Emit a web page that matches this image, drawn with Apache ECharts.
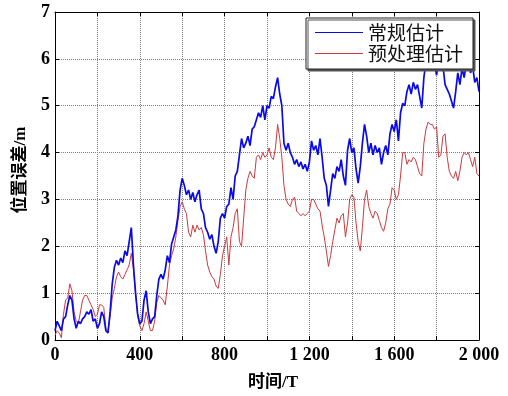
<!DOCTYPE html>
<html>
<head>
<meta charset="utf-8">
<script src="https://cdn.jsdelivr.net/npm/echarts@6/dist/echarts.min.js"></script>
<style>
  html, body { margin: 0; padding: 0; background: #fff; }
  #chart { width: 508px; height: 396px; }
</style>
</head>
<body>
<div id="chart"></div>
<script>
// sample spacing along the time axis
const timeStep = 10;

// 常规估计 (conventional estimate), one value every 10 T from 0 to 2000
const conventional = [
  0.2, 0.4, 0.3, 0.2, 0.45, 0.5, 0.75, 0.95, 0.85, 0.45,
  0.25, 0.4, 0.35, 0.45, 0.5, 0.6, 0.55, 0.65, 0.4, 0.45,
  0.25, 0.35, 0.6, 0.5, 0.2, 0.15, 0.6, 1.2, 1.55, 1.7,
  1.6, 1.75, 1.65, 1.9, 1.8, 2.1, 2.4, 1.6, 1.0, 0.55,
  0.35, 0.4, 0.85, 1.05, 0.6, 0.35, 0.45, 0.5, 0.95, 1.3,
  1.4, 1.3, 1.5, 1.8, 1.65, 2.05, 2.2, 2.35, 2.65, 3.2,
  3.45, 3.3, 3.1, 3.2, 3.0, 3.15, 2.95, 3.1, 3.2, 2.8,
  2.7, 2.4, 2.3, 2.15, 2.25, 2.0, 1.85, 2.1, 2.6, 2.7,
  2.6, 2.85, 2.9, 3.25, 3.0, 3.5, 3.6, 3.95, 4.3, 4.1,
  4.2, 4.35, 4.15, 4.5, 4.55, 4.7, 4.85, 4.75, 5.0, 4.7,
  5.0, 4.95, 5.2, 5.15, 5.4, 5.6, 5.25, 5.0, 4.2, 4.05,
  4.2, 4.0, 3.9, 3.75, 3.85, 3.7, 3.8, 3.65, 3.75, 3.6,
  3.8, 4.25, 4.05, 4.15, 3.95, 4.3, 3.9, 3.45, 3.3, 2.85,
  3.2, 3.55, 3.45, 3.7, 3.6, 3.85, 3.5, 3.3, 4.05, 4.3,
  4.0, 4.1, 3.65, 3.35, 3.7, 4.2, 4.6, 4.35, 4.0, 4.2,
  3.95, 4.15, 4.0, 4.1, 3.75, 4.0, 4.15, 3.95, 4.4, 4.6,
  4.45, 4.7, 4.25, 4.85, 5.05, 5.0, 5.3, 5.45, 5.25, 5.5,
  5.35, 5.45, 5.2, 4.95, 5.6, 5.95, 6.1, 6.0, 6.2, 5.9,
  5.65, 6.0, 5.75, 5.85, 5.45, 5.35, 5.25, 5.1, 4.95, 5.3,
  5.7, 5.45, 5.8, 5.6, 5.9, 6.0, 5.7, 5.85, 5.5, 5.6,
  5.3
];

// 预处理估计 (pre-processed estimate), one value every 10 T from 0 to 2000
const preprocessed = [
  0.1, 0.2, 0.15, 0.05, 0.55, 0.85, 0.9, 1.2, 1.05, 0.6,
  0.4, 0.35, 0.6, 0.85, 0.95, 0.95, 0.85, 0.75, 0.65, 0.5,
  0.55, 0.75, 0.75, 0.7, 0.25, 0.2, 0.5, 0.9, 1.1, 1.35,
  1.45, 1.35, 1.3, 1.4, 1.5, 1.6, 1.85, 1.5, 1.0, 0.5,
  0.3, 0.2, 0.35, 0.6, 0.4, 0.2, 0.2, 0.4, 0.8, 0.95,
  0.9, 0.85, 0.75, 1.15, 1.6, 1.8, 1.95, 2.2, 2.55, 2.85,
  2.95, 2.8, 2.7, 2.3, 2.2, 2.45, 2.3, 2.45, 2.35, 2.4,
  2.25, 1.9, 1.6, 1.45, 1.35, 1.3, 1.15, 1.1, 1.4, 1.8,
  2.0, 2.2, 1.6, 2.2, 2.4, 2.7, 2.8, 2.1, 2.0, 2.6,
  3.2, 3.45, 3.6, 3.5, 3.45, 3.9, 3.95, 3.85, 4.0, 3.9,
  3.95, 4.1, 3.9, 3.85, 4.1, 4.6, 4.3, 3.9, 3.3, 3.0,
  2.9, 2.85, 3.0, 3.05, 2.75, 2.7, 2.65, 2.7, 2.65, 2.7,
  2.75, 3.0, 3.0, 2.9, 2.8, 2.75, 2.45, 2.2, 1.9, 1.57,
  1.8, 2.1, 2.35, 2.6, 2.5, 2.65, 2.7, 2.2, 2.5, 3.0,
  3.1, 3.05, 2.5, 2.1, 1.9, 2.4, 3.0, 3.2, 2.85, 2.7,
  2.6, 2.75, 2.7, 2.55, 2.4, 2.32, 2.5, 2.8, 2.9, 3.25,
  3.2, 3.0, 3.1, 3.5, 4.0, 4.0, 3.75, 3.85, 3.8, 3.9,
  3.85, 3.7, 3.55, 3.5, 4.2, 4.5, 4.65, 4.6, 4.6, 4.5,
  4.55, 3.9, 3.95, 4.35, 4.4, 3.9, 3.6, 3.5, 3.45, 3.6,
  3.4, 3.6, 3.9, 4.0, 3.95, 4.0, 3.85, 3.7, 3.9, 3.55,
  3.5
];

// tick labels on the time axis (thin space as thousands separator)
const xTickLabels = { 0: '0', 400: '400', 800: '800', 1200: '1 200', 1600: '1 600', 2000: '2 000' };
const yTicks = [0, 1, 2, 3, 4, 5, 6, 7];

const seriesNames = ['常规估计', '预处理估计'];

function toPoints(values) {
  return values.map((v, i) => [i * timeStep, v]);
}

const chart = echarts.init(document.getElementById('chart'));

const tickFont = {
  color: '#000',
  fontFamily: '"Liberation Serif", "Times New Roman", serif',
  fontWeight: 'bold',
  fontSize: 18
};

function gridLine() {
  return {
    show: true,
    lineStyle: { color: '#808080', type: 'dotted', width: 1 }
  };
}

function frameAxis(position) {
  return {
    axisLine: { show: true, onZero: false, lineStyle: { color: '#000', width: 1 } },
    axisTick: { show: true, inside: true, length: 4, lineStyle: { color: '#000' } },
    position
  };
}

chart.setOption({
  animation: false,
  backgroundColor: '#fff',
  grid: { left: 55, right: 29, top: 12, bottom: 51 },
  legend: {
    data: seriesNames,
    orient: 'vertical',
    left: 306,
    top: 18,
    padding: [5, 10, 6, 9],
    itemGap: 2,
    itemWidth: 48,
    itemHeight: 1,
    icon: 'rect',
    backgroundColor: '#fff',
    borderColor: '#222',
    borderWidth: 1,
    borderRadius: 0,
    shadowColor: '#555',
    shadowBlur: 0,
    shadowOffsetX: 2,
    shadowOffsetY: 2,
    textStyle: {
      color: '#111',
      fontFamily: '"Noto Sans CJK SC", sans-serif',
      fontSize: 19,
      lineHeight: 19
    }
  },
  xAxis: [
    {
      type: 'value',
      min: 0,
      max: 2000,
      interval: 200,
      ...frameAxis('bottom'),
      axisLabel: {
        ...tickFont,
        margin: 6,
        formatter: (v) => (xTickLabels[v] !== undefined ? xTickLabels[v] : '')
      },
      splitLine: gridLine(),
      name: '时间/T',
      nameLocation: 'middle',
      nameGap: 34,
      nameTextStyle: {
        color: '#000',
        fontFamily: '"Liberation Serif", "Noto Sans CJK SC", serif',
        fontWeight: 'bold',
        fontSize: 17,
        padding: [0, 0, 0, 12]
      }
    },
    {
      type: 'value',
      min: 0,
      max: 2000,
      interval: 200,
      ...frameAxis('top'),
      axisLabel: { show: false },
      splitLine: { show: false }
    }
  ],
  yAxis: [
    {
      type: 'value',
      min: 0,
      max: 7,
      interval: 1,
      ...frameAxis('left'),
      axisLabel: {
        ...tickFont,
        margin: 5,
        formatter: (v) => (yTicks.includes(v) ? String(v) : '')
      },
      splitLine: gridLine(),
      name: '位置误差/m',
      nameLocation: 'middle',
      nameGap: 26,
      nameRotate: 90,
      nameTextStyle: {
        color: '#000',
        fontFamily: '"Liberation Serif", "Noto Sans CJK SC", serif',
        fontWeight: 'bold',
        fontSize: 17,
        padding: [0, 0, 0, 12]
      }
    },
    {
      type: 'value',
      min: 0,
      max: 7,
      interval: 1,
      ...frameAxis('right'),
      axisLabel: { show: false },
      splitLine: { show: false }
    }
  ],
  series: [
    {
      name: seriesNames[0],
      type: 'line',
      symbol: 'none',
      data: toPoints(conventional),
      lineStyle: { color: '#0a0ae6', width: 1.7 },
      itemStyle: { color: '#0a0ae6' },
      z: 3
    },
    {
      name: seriesNames[1],
      type: 'line',
      symbol: 'none',
      data: toPoints(preprocessed),
      lineStyle: { color: '#cc3a40', width: 1 },
      itemStyle: { color: '#cc3a40' },
      z: 2
    }
  ]
});
</script>
</body>
</html>
